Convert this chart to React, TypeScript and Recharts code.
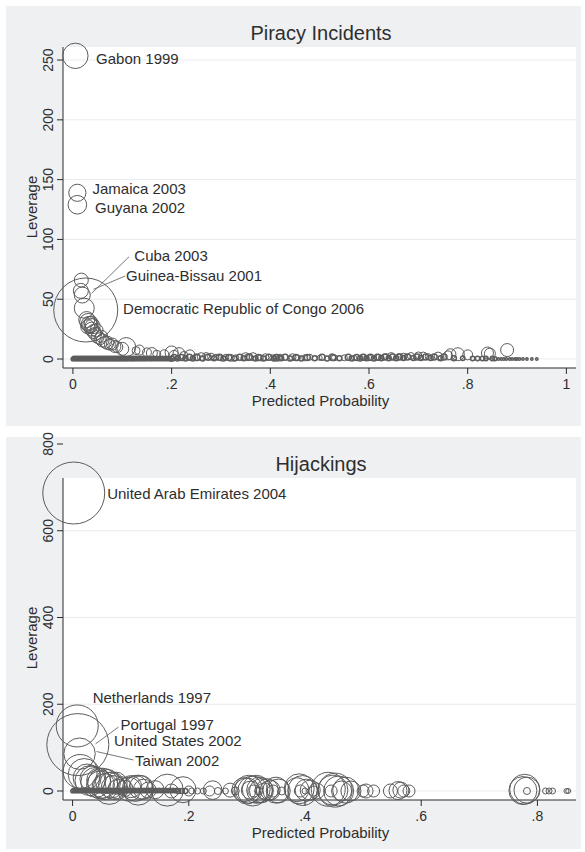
import React from "react";
import {
  ScatterChart,
  Scatter,
  XAxis,
  YAxis,
  ZAxis,
  ReferenceArea,
  ReferenceLine,
} from "recharts";

// [predicted probability, leverage, influence weight]
type Pt = [number, number, number];

const FONT = '"Liberation Sans", Arial, Helvetica, sans-serif';
const TEXT = "#2e2e2e";
const AXIS = "#2a2a2a";
const GRID = "#e7ebee";
const MARKER = "#5c5c5c";
const PANEL = "#eef0f2";

// ---------- Piracy incidents ----------
const piracyXTicks = [0, 0.2, 0.4, 0.6, 0.8, 1];
const piracyYTicks = [0, 50, 100, 150, 200, 250];
const piracyXDomain: [number, number] = [-0.0201, 1.0195];
const piracyYDomain: [number, number] = [-7.5, 260.9];

const piracyCurve: Pt[] = [
  [0.005, 253.5, 15.75],
  [0.009, 139, 7.22],
  [0.009, 129, 8.45],
  [0.017, 66, 4.79],
  [0.016, 57, 5.49],
  [0.019, 53.5, 6.25],
  [0.023, 42.5, 9.77],
  [0.026, 41, 100],
  [0.028, 33, 6.25],
  [0.031, 31, 7.06],
  [0.033, 29, 6.25],
  [0.035, 28, 5.49],
  [0.03, 27, 4.79],
  [0.037, 30, 4.79],
  [0.038, 25, 4.79],
  [0.04, 27.5, 5.49],
  [0.042, 23, 4.79],
  [0.045, 21, 4.13],
  [0.048, 24, 4.13],
  [0.05, 18.5, 4.13],
  [0.055, 17, 3.52],
  [0.058, 19, 3.52],
  [0.06, 15.5, 4.13],
  [0.066, 14, 3.52],
  [0.07, 13.5, 4.13],
  [0.075, 12, 2.95],
  [0.08, 12.5, 3.52],
  [0.085, 10.5, 3.52],
  [0.09, 10, 2.95],
  [0.1, 8.5, 4.13],
  [0.108, 10, 8.81],
];

const piracyTail: Pt[] = [
  [0.128, 7, 1.56], [0.135, 7.5, 2.44], [0.15, 5.5, 1.98], [0.16, 5, 2.95],
  [0.17, 4, 1.56], [0.185, 4, 1.98], [0.2, 5.5, 4.13], [0.205, 3, 2.44],
  [0.215, 4.5, 3.52], [0.225, 3, 1.56], [0.237, 3.5, 2.44], [0.25, 1.5, 1.2],
  [0.26, 2, 1.56], [0.27, 2.5, 1.2], [0.28, 2, 1.2], [0.29, 1.5, 0.88],
  [0.3, 1, 0.88], [0.31, 1.5, 0.88], [0.32, 1, 1.2], [0.33, 1, 0.88],
  [0.35, 2, 1.56], [0.355, 1.5, 1.2], [0.365, 2, 1.56], [0.38, 1, 0.88],
  [0.39, 1.5, 1.2], [0.405, 1, 0.88], [0.415, 1, 1.2], [0.42, 1.5, 0.88],
  [0.445, 1.5, 1.2], [0.455, 1, 0.88], [0.47, 1, 0.88], [0.48, 1.5, 0.88],
  [0.5, 1, 0.61], [0.525, 1.5, 1.2], [0.53, 1, 0.88], [0.55, 1, 0.88],
  [0.57, 1, 0.61], [0.59, 1.5, 0.88], [0.6, 1, 0.88], [0.62, 1.5, 0.88],
  [0.635, 2, 0.88], [0.645, 2.5, 1.2], [0.66, 2, 0.88], [0.67, 2, 1.2],
  [0.685, 2.5, 1.2], [0.7, 3, 1.2], [0.71, 2.5, 1.56], [0.72, 2, 0.88],
  [0.74, 2.5, 1.56], [0.76, 3, 1.98], [0.765, 4, 2.95], [0.78, 4, 4.13],
  [0.8, 3.5, 2.44], [0.84, 5, 3.52], [0.845, 4.5, 2.95], [0.88, 7.5, 4.13],
];

const piracyZeroRow: Pt[] = [
  [0.0, 0, 0.32], [0.002, 0.8, 0.32], [0.004, 0, 0.32], [0.006, 0.8, 0.32],
  [0.008, 0, 0.32], [0.01, 0.8, 0.32], [0.012, 0, 0.32], [0.014, 0.8, 0.32],
  [0.016, 0, 0.32], [0.018, 0.8, 0.32], [0.02, 0, 0.32], [0.022, 0.8, 0.32],
  [0.024, 0, 0.32], [0.026, 0.8, 0.32], [0.028, 0, 0.32], [0.03, 0.8, 0.32],
  [0.032, 0, 0.32], [0.034, 0.8, 0.32], [0.036, 0, 0.32], [0.038, 0.8, 0.32],
  [0.04, 0, 0.32], [0.042, 0.8, 0.32], [0.044, 0, 0.32], [0.046, 0.8, 0.32],
  [0.048, 0, 0.32], [0.05, 0.8, 0.32], [0.052, 0, 0.32], [0.054, 0.8, 0.32],
  [0.056, 0, 0.32], [0.058, 0.8, 0.32], [0.06, 0, 0.32], [0.062, 0.8, 0.32],
  [0.064, 0, 0.32], [0.066, 0.8, 0.32], [0.068, 0, 0.32], [0.07, 0.8, 0.32],
  [0.072, 0, 0.32], [0.074, 0.8, 0.32], [0.076, 0, 0.32], [0.078, 0.8, 0.32],
  [0.08, 0, 0.32], [0.082, 0.8, 0.32], [0.084, 0, 0.32], [0.086, 0.8, 0.32],
  [0.088, 0, 0.32], [0.09, 0.8, 0.32], [0.092, 0, 0.32], [0.094, 0.8, 0.32],
  [0.096, 0, 0.32], [0.098, 0.8, 0.32], [0.1, 0, 0.32], [0.102, 0.8, 0.32],
  [0.104, 0, 0.32], [0.106, 0.8, 0.32], [0.108, 0, 0.32], [0.11, 0.8, 0.32],
  [0.112, 0, 0.32], [0.114, 0.8, 0.32], [0.117, 0, 0.32], [0.119, 0.8, 0.32],
  [0.121, 0, 0.32], [0.123, 0.8, 0.32], [0.125, 0, 0.32], [0.128, 0.8, 0.32],
  [0.13, 0, 0.32], [0.133, 0.8, 0.32], [0.135, 0, 0.32], [0.138, 0.8, 0.32],
  [0.14, 0, 0.32], [0.143, 0.8, 0.32], [0.145, 0, 0.32], [0.148, 0.8, 0.32],
  [0.15, 0, 0.32], [0.153, 0.8, 0.32], [0.156, 0, 0.32], [0.159, 0.8, 0.32],
  [0.161, 0, 0.32], [0.164, 0.8, 0.32], [0.167, 0, 0.32], [0.17, 0.8, 0.32],
  [0.173, 0, 0.32], [0.176, 0.8, 0.32], [0.179, 0, 0.32], [0.182, 0.8, 0.32],
  [0.185, 0, 0.32], [0.188, 0.8, 0.32], [0.191, 0, 0.32], [0.194, 0.8, 0.32],
  [0.197, 0, 0.32],
  [0.2, 0.3, 0.61], [0.205, 1.2, 0.88], [0.212, 0.4, 0.61], [0.22, 1.3, 0.88],
  [0.228, 0.5, 0.61], [0.236, 1.4, 0.88], [0.243, 0.4, 0.61], [0.252, 1.3, 0.88],
  [0.263, 0.5, 0.61], [0.274, 1.5, 0.88], [0.286, 0.6, 0.61], [0.297, 1.4, 0.88],
  [0.305, 0.4, 0.61], [0.316, 1.3, 0.88], [0.327, 0.5, 0.61], [0.338, 1.4, 0.88],
  [0.346, 0.6, 0.61], [0.358, 1.4, 0.88], [0.37, 0.5, 0.61], [0.376, 1.3, 0.88],
  [0.386, 0.4, 0.61], [0.397, 1.4, 0.88], [0.408, 0.5, 0.61], [0.412, 1.3, 0.88],
  [0.422, 0.6, 0.61], [0.43, 1.4, 0.88], [0.44, 0.4, 0.61], [0.452, 1.3, 0.88],
  [0.463, 0.5, 0.61], [0.475, 1.3, 0.88], [0.49, 0.6, 0.61], [0.505, 1.4, 0.88],
  [0.515, 0.5, 0.61], [0.527, 1.3, 0.88], [0.54, 0.6, 0.61], [0.558, 1.4, 0.88],
  [0.565, 0.4, 0.61], [0.575, 1.3, 0.88], [0.582, 0.5, 0.61], [0.588, 1.5, 0.88],
  [0.595, 0.6, 0.61], [0.603, 1.4, 0.88], [0.61, 0.5, 0.61], [0.617, 1.5, 0.88],
  [0.625, 0.6, 0.61], [0.632, 1.6, 0.88], [0.64, 0.7, 0.61], [0.648, 1.7, 0.88],
  [0.655, 0.7, 0.61], [0.662, 1.7, 0.88], [0.67, 0.8, 0.61], [0.678, 1.8, 0.88],
  [0.69, 0.8, 0.61], [0.697, 1.8, 0.88], [0.705, 0.9, 0.61], [0.715, 1.7, 0.88],
  [0.725, 0.8, 0.61], [0.732, 1.7, 0.88], [0.745, 0.7, 0.61], [0.752, 1.6, 0.88],
  [0.772, 0.7, 0.61], [0.79, 0.6, 0.47], [0.81, 0.5, 0.47], [0.82, 0.4, 0.47],
  [0.83, 0.5, 0.47], [0.837, 0.4, 0.47], [0.85, 0.5, 0.47], [0.855, 0.3, 0.39],
  [0.862, 0, 0.14], [0.868, 0, 0.14], [0.873, 0, 0.14], [0.878, 0, 0.14],
  [0.885, 0, 0.14], [0.89, 0, 0.14], [0.896, 0, 0.14], [0.9, 0, 0.14],
  [0.905, 0, 0.14], [0.912, 0, 0.14], [0.92, 0, 0.14], [0.93, 0, 0.14],
  [0.94, 0, 0.14],
];

const piracyNotes = [
  { prob: 0.047, lev: 250.8, text: "Gabon 1999" },
  { prob: 0.0397, lev: 142.7, text: "Jamaica 2003" },
  { prob: 0.0448, lev: 126.8, text: "Guyana 2002" },
  { prob: 0.1245, lev: 86.1, text: "Cuba 2003" },
  { prob: 0.1077, lev: 69.4, text: "Guinea-Bissau 2001" },
  { prob: 0.1016, lev: 42.4, text: "Democratic Republic of Congo 2006" },
];

const piracyLeaders: [number, number][][] = [
  [[0.1137, 85.5], [0.0379, 54.9]],
  [[0.106, 69.4], [0.0417, 58.3]],
];

// ---------- Hijackings ----------
const hijackXTicks = [0, 0.2, 0.4, 0.6, 0.8];
const hijackYTicks = [0, 200, 400, 600, 800];
const hijackXDomain: [number, number] = [-0.0165, 0.8664];
const hijackYDomain: [number, number] = [-20.75, 800];
const hijackPlotTop = 721.6;

const hijackLarge: Pt[] = [
  [0.002, 687, 93.8],
  [0.008, 150, 43.1],
  [0.009, 107, 93.8],
  [0.012, 86, 24.1],
];

const hijackCluster: Pt[] = [
  [0.013, 45, 28.2], [0.02, 38, 25], [0.025, 30, 19.1], [0.03, 24, 22],
  [0.035, 28, 16.5], [0.04, 20, 22], [0.045, 25, 14.06], [0.048, 14, 19.1],
  [0.052, 18, 22], [0.056, 10, 16.5], [0.06, 22, 14.06], [0.063, 6, 25],
  [0.067, 14, 16.5], [0.07, 8, 14.06], [0.075, 18, 11.8], [0.078, 4, 9.77],
  [0.085, 12, 7.91], [0.09, 6, 6.25], [0.097, 4, 14.06], [0.1, 10, 11.8],
  [0.108, 6, 16.5], [0.113, 2, 22], [0.118, 8, 14.06], [0.122, 4, 9.77],
  [0.13, 2, 6.25], [0.142, 3, 7.91], [0.163, 2, 25], [0.17, 0, 4.79],
  [0.19, 3, 16.5], [0.2, 0, 2.44], [0.205, 0, 0.88], [0.215, 0, 0.88],
  [0.225, 0, 0.88], [0.241, 2, 8.45], [0.236, 0, 2.44], [0.25, 0, 1.2],
  [0.271, 2, 4.79], [0.263, 0, 0.88], [0.28, 0, 1.56], [0.295, 3, 14.06],
  [0.3, 0, 16.5], [0.303, 4, 19.1], [0.306, 2, 7.91], [0.31, 0, 22],
  [0.312, 0, 3.52], [0.316, 4, 19.1], [0.32, 0, 1.56], [0.322, 2, 16.5],
  [0.325, 1, 14.06], [0.33, 0, 6.25], [0.335, 3, 11.8], [0.34, 2, 9.77],
  [0.345, 0, 3.52], [0.35, 2, 16.5], [0.354, 0, 14.06], [0.36, 0, 1.56],
  [0.386, 3, 14.06], [0.39, 5, 22], [0.392, 0, 3.52], [0.396, 1, 22],
  [0.4, 0, 0.88], [0.402, 2, 11.8], [0.409, 2, 9.77], [0.415, 0, 2.44],
  [0.42, 0, 6.25], [0.44, 4, 28.2], [0.445, 0, 3.52], [0.448, 2, 22],
  [0.452, 2, 28.2], [0.458, 0, 22], [0.463, 0, 9.77], [0.47, 2, 16.5],
  [0.479, 0, 9.77], [0.5, 0, 3.52], [0.505, 0, 4.79], [0.518, 0, 3.52],
  [0.547, 0, 4.79], [0.56, 1, 7.91], [0.565, 2, 6.25], [0.57, 0, 3.52],
  [0.579, 0, 3.52], [0.778, 4, 22], [0.782, 2, 16.5], [0.775, 1, 19.1],
  [0.782, 0, 1.2], [0.814, 0, 0.88], [0.82, 0, 0.88], [0.826, 0, 0.88],
  [0.85, 0, 0.61], [0.853, 0, 0.61],
];

const hijackZeroRow: Pt[] = [
  [0.0, 0, 0.32], [0.002, 2, 0.32], [0.004, 0, 0.32], [0.006, 2, 0.32],
  [0.008, 0, 0.32], [0.01, 2, 0.32], [0.012, 0, 0.32], [0.014, 2, 0.32],
  [0.016, 0, 0.32], [0.018, 2, 0.32], [0.02, 0, 0.32], [0.022, 2, 0.32],
  [0.024, 0, 0.32], [0.026, 2, 0.32], [0.028, 0, 0.32], [0.03, 2, 0.32],
  [0.032, 0, 0.32], [0.034, 2, 0.32], [0.036, 0, 0.32], [0.038, 2, 0.32],
  [0.04, 0, 0.32], [0.042, 2, 0.32], [0.044, 0, 0.32], [0.046, 2, 0.32],
  [0.048, 0, 0.32], [0.05, 2, 0.32], [0.052, 0, 0.32], [0.054, 2, 0.32],
  [0.056, 0, 0.32], [0.058, 2, 0.32], [0.06, 0, 0.32], [0.062, 2, 0.32],
  [0.064, 0, 0.32], [0.066, 2, 0.32], [0.068, 0, 0.32], [0.07, 2, 0.32],
  [0.072, 0, 0.32], [0.074, 2, 0.32], [0.076, 0, 0.32], [0.078, 2, 0.32],
  [0.08, 0, 0.32], [0.082, 2, 0.32], [0.084, 0, 0.32], [0.086, 2, 0.32],
  [0.088, 0, 0.32], [0.09, 2, 0.32], [0.092, 0, 0.32], [0.094, 2, 0.32],
  [0.096, 0, 0.32], [0.098, 2, 0.32], [0.1, 0, 0.32], [0.103, 2, 0.32],
  [0.105, 0, 0.32], [0.108, 2, 0.32], [0.11, 0, 0.32], [0.113, 2, 0.32],
  [0.115, 0, 0.32], [0.118, 2, 0.32], [0.12, 0, 0.32], [0.123, 2, 0.32],
  [0.125, 0, 0.32], [0.128, 2, 0.32], [0.13, 0, 0.32], [0.133, 2, 0.32],
  [0.135, 0, 0.32], [0.138, 2, 0.32], [0.14, 0, 0.32], [0.143, 2, 0.32],
  [0.146, 0, 0.32], [0.149, 2, 0.32], [0.152, 0, 0.32], [0.155, 2, 0.32],
  [0.158, 0, 0.32], [0.161, 2, 0.32], [0.164, 0, 0.32], [0.167, 2, 0.32],
  [0.17, 0, 0.32], [0.173, 2, 0.32], [0.176, 0, 0.32], [0.179, 2, 0.32],
  [0.182, 0, 0.61], [0.188, 0, 0.61], [0.194, 0, 0.61],
];

const hijackNotes = [
  { prob: 0.0595, lev: 685, text: "United Arab Emirates 2004" },
  { prob: 0.0345, lev: 215.3, text: "Netherlands 1997" },
  { prob: 0.0825, lev: 152, text: "Portugal 1997" },
  { prob: 0.0713, lev: 115.3, text: "United States 2002" },
  { prob: 0.1075, lev: 70, text: "Taiwan 2002" },
];

const hijackLeaders: [number, number][][] = [
  [[0.079, 147.5], [0.0394, 108.4]],
  [[0.1048, 71.5], [0.0411, 91]],
];

// ---------- helpers ----------
const toRows = (pts: Pt[]) => pts.map(([prob, lev, infl]) => ({ prob, lev, infl }));

const probLabel = (v: number) =>
  v === 0 ? "0" : v === 1 ? "1" : String(v).replace(/^0/, "");

const ringRadius = (props: any) => {
  const { size, width } = props;
  return typeof size === "number" && size > 0
    ? Math.sqrt(size / Math.PI)
    : (width ?? 0) / 2;
};

const Ring = (props: any) => {
  const { cx, cy } = props;
  if (cx == null || cy == null) return null;
  return (
    <circle cx={cx} cy={cy} r={ringRadius(props)} fill="none" stroke={MARKER} strokeWidth={1} />
  );
};

// the many near-zero observations merge into a solid band
const TinyRing = (props: any) => {
  const { cx, cy } = props;
  if (cx == null || cy == null) return null;
  return (
    <circle cx={cx} cy={cy} r={ringRadius(props)} fill="none" stroke={MARKER} strokeWidth={1.5} />
  );
};

const NoteText = (props: any) => {
  const { cx, cy, payload } = props;
  if (cx == null || cy == null) return null;
  return (
    <text
      x={cx}
      y={cy}
      dy="0.36em"
      fontSize={15}
      fontFamily={FONT}
      fill={TEXT}
    >
      {payload.text}
    </text>
  );
};

const RotatedTick = (props: any) => {
  const { x, y, payload } = props;
  return (
    <text
      x={x}
      y={y}
      transform={`rotate(-90, ${x}, ${y})`}
      textAnchor="middle"
      fontSize={14}
      fontFamily={FONT}
      fill={TEXT}
    >
      {payload.value}
    </text>
  );
};

const xTickStyle = { fontSize: 14, fontFamily: FONT, fill: TEXT };

const Caption = ({
  x,
  y,
  size,
  rotate,
  children,
}: {
  x: number;
  y: number;
  size: number;
  rotate?: boolean;
  children: React.ReactNode;
}) => (
  <div
    style={{
      position: "absolute",
      left: x,
      top: y,
      transform: `translate(-50%, -50%)${rotate ? " rotate(-90deg)" : ""}`,
      fontFamily: FONT,
      fontSize: size,
      lineHeight: 1,
      color: TEXT,
      whiteSpace: "nowrap",
    }}
  >
    {children}
  </div>
);

export default function App() {
  const piracyMain = toRows(piracyCurve);
  const piracySmall = toRows(piracyTail);
  const piracyZero = toRows(piracyZeroRow);
  const hijackMain = toRows(hijackLarge);
  const hijackMid = toRows(hijackCluster);
  const hijackZero = toRows(hijackZeroRow);

  return (
    <div
      style={{
        position: "absolute",
        left: 0,
        top: 0,
        width: 585,
        height: 852,
        background: "#ffffff",
        overflow: "hidden",
      }}
    >
      <div
        style={{ position: "absolute", left: 6, top: 6, width: 575, height: 420, background: PANEL }}
      />
      <div
        style={{ position: "absolute", left: 6, top: 437, width: 575, height: 412, background: PANEL }}
      />

      {/* Piracy incidents */}
      <div style={{ position: "absolute", left: 0, top: 0 }}>
        <ScatterChart
          width={585}
          height={426}
          margin={{ top: 47, right: 9, bottom: 0, left: 0 }}
        >
          <XAxis
            type="number"
            dataKey="prob"
            domain={piracyXDomain}
            ticks={piracyXTicks}
            tickFormatter={probLabel}
            height={58}
            tickSize={6}
            tickMargin={5}
            tick={xTickStyle}
            stroke={AXIS}
            interval={0}
          />
          <YAxis
            type="number"
            dataKey="lev"
            domain={piracyYDomain}
            ticks={piracyYTicks}
            width={63}
            tickSize={6}
            tickMargin={4}
            tick={<RotatedTick />}
            stroke={AXIS}
            interval={0}
          />
          <ZAxis type="number" dataKey="infl" domain={[0, 100]} range={[0, 3217]} />
          <ReferenceArea
            x1={piracyXDomain[0]}
            x2={piracyXDomain[1]}
            y1={piracyYDomain[0]}
            y2={piracyYDomain[1]}
            fill="#ffffff"
            fillOpacity={1}
            stroke="none"
            ifOverflow="visible"
          />
          {piracyYTicks.map((v) => (
            <ReferenceLine key={v} y={v} stroke={GRID} strokeWidth={1} />
          ))}
          {piracyLeaders.map((seg, i) => (
            <ReferenceLine
              key={i}
              segment={seg.map(([x, y]) => ({ x, y }))}
              stroke="#6a6a6a"
              strokeWidth={0.9}
              ifOverflow="visible"
            />
          ))}
          <Scatter data={piracyZero} shape={TinyRing} isAnimationActive={false} />
          <Scatter data={piracySmall} shape={Ring} isAnimationActive={false} />
          <Scatter data={piracyMain} shape={Ring} isAnimationActive={false} />
          <Scatter data={piracyNotes} shape={NoteText} isAnimationActive={false} />
        </ScatterChart>
      </div>

      {/* Hijackings */}
      <div style={{ position: "absolute", left: 0, top: 420 }}>
        <ScatterChart
          width={585}
          height={432}
          margin={{ top: 24, right: 9, bottom: 0, left: 0 }}
        >
          <XAxis
            type="number"
            dataKey="prob"
            domain={hijackXDomain}
            ticks={hijackXTicks}
            tickFormatter={probLabel}
            height={52}
            tickSize={6}
            tickMargin={5}
            tick={xTickStyle}
            stroke={AXIS}
            interval={0}
          />
          <YAxis
            type="number"
            dataKey="lev"
            domain={hijackYDomain}
            ticks={hijackYTicks}
            width={63}
            tickSize={6}
            tickMargin={4}
            tick={<RotatedTick />}
            axisLine={false}
            stroke={AXIS}
            interval={0}
          />
          <ZAxis type="number" dataKey="infl" domain={[0, 100]} range={[0, 3217]} />
          <ReferenceArea
            x1={hijackXDomain[0]}
            x2={hijackXDomain[1]}
            y1={hijackYDomain[0]}
            y2={hijackPlotTop}
            fill="#ffffff"
            fillOpacity={1}
            stroke="none"
            ifOverflow="visible"
          />
          {hijackYTicks
            .filter((v) => v < hijackPlotTop)
            .map((v) => (
              <ReferenceLine key={v} y={v} stroke={GRID} strokeWidth={1} />
            ))}
          <ReferenceLine
            segment={[
              { x: hijackXDomain[0], y: hijackYDomain[0] },
              { x: hijackXDomain[0], y: hijackPlotTop },
            ]}
            stroke={AXIS}
            strokeWidth={1}
            ifOverflow="visible"
          />
          {hijackLeaders.map((seg, i) => (
            <ReferenceLine
              key={i}
              segment={seg.map(([x, y]) => ({ x, y }))}
              stroke="#6a6a6a"
              strokeWidth={0.9}
              ifOverflow="visible"
            />
          ))}
          <Scatter data={hijackZero} shape={TinyRing} isAnimationActive={false} />
          <Scatter data={hijackMid} shape={Ring} isAnimationActive={false} />
          <Scatter data={hijackMain} shape={Ring} isAnimationActive={false} />
          <Scatter data={hijackNotes} shape={NoteText} isAnimationActive={false} />
        </ScatterChart>
      </div>

      <Caption x={321} y={33} size={20}>Piracy Incidents</Caption>
      <Caption x={320.5} y={400} size={15}>Predicted Probability</Caption>
      <Caption x={30.5} y={207} size={15} rotate>Leverage</Caption>

      <Caption x={321} y={464} size={20}>Hijackings</Caption>
      <Caption x={320.5} y={832} size={15}>Predicted Probability</Caption>
      <Caption x={30.5} y={638} size={15} rotate>Leverage</Caption>
    </div>
  );
}
